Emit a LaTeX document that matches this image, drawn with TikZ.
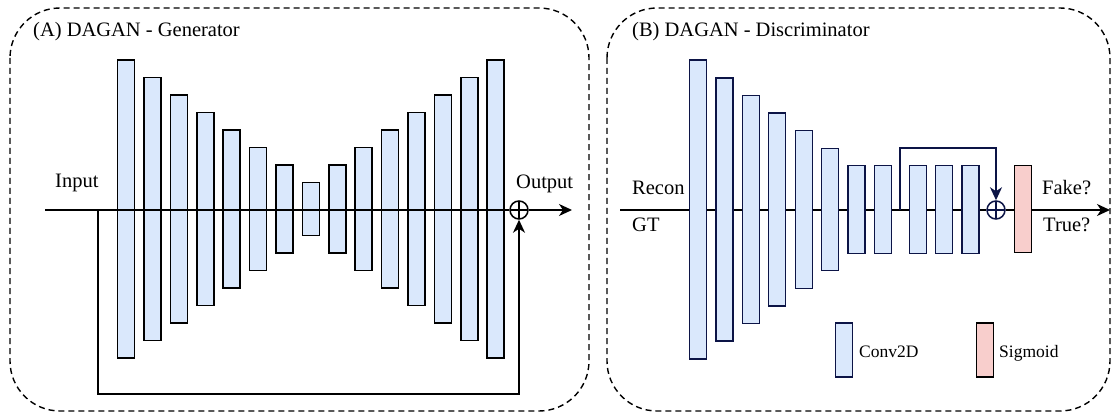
\documentclass[tikz,border=0pt]{standalone}
\usepackage{fontspec}
\setmainfont{Liberation Serif}
\usetikzlibrary{arrows.meta,calc}
\definecolor{barfill}{HTML}{DAE8FC}
\definecolor{sigfill}{HTML}{F8CECC}
\definecolor{navy}{RGB}{12,20,70}
\begin{document}
\begin{tikzpicture}[x=1pt,y=-1pt,
  panel/.style={draw, dash pattern=on 6pt off 4pt, line width=1.4pt, rounded corners=50pt},
  genbar/.style={draw=black, fill=barfill, line width=1.6pt, minimum width=17pt, inner sep=0pt},
  discbar/.style={draw=navy, fill=barfill, line width=1.6pt, minimum width=17pt, inner sep=0pt},
  sigbar/.style={draw=black, fill=sigfill, line width=1.6pt, minimum width=17pt, inner sep=0pt},
  oplus/.style={circle, draw=#1, line width=1.5pt, minimum size=18pt, inner sep=0pt,
    path picture={\draw[#1, line width=1.5pt] (path picture bounding box.north) -- (path picture bounding box.south)
      (path picture bounding box.west) -- (path picture bounding box.east);}},
  conn/.style={line width=1.6pt},
  tip/.style={-{Stealth[length=13pt,width=12pt,inset=4pt]}},
  lbl/.style={anchor=base west, inner sep=0pt, font=\fontsize{20.5}{24}\selectfont},
  leg/.style={anchor=base west, inner sep=0pt, font=\fontsize{17.5}{20}\selectfont}]
\useasboundingbox (0,0) rectangle (1111,414);

% panels
\draw[panel] (10,8) rectangle (589,411);
\draw[panel] (607,8) rectangle (1110,411);

% ---------- Generator ----------
\node[lbl] (titleA) at (33,36.5) {(A) DAGAN - Generator};
\foreach \i in {1,...,15} {
  \pgfmathsetmacro\dd{abs(\i-8)}
  \pgfmathsetmacro\hh{53+35*\dd}
  \node[genbar, minimum height=\hh pt] (g\i) at ({126+26.4*(\i-1)}, 209) {};
}
\node[oplus=black] (gplus) at (519,210) {};
\coordinate (gin) at (45,210);
\coordinate (gout) at (572,210);
\coordinate (gs) at (98,210);
\coordinate (gsb) at (98,394);
\draw[conn] (gin) -- (gplus.west);
\draw[conn,tip] (gplus.east) -- (gout);
\draw[conn,tip] (gs) -- (gsb) -| (gplus.south);
\node[lbl] (input) at (55,187.5) {Input};
\node[lbl] (output) at (516,189) {Output};

% ---------- Discriminator ----------
\node[lbl] (titleB) at (632,36.5) {(B) DAGAN - Discriminator};
\node[oplus=navy] (dplus) at (996,210) {};
\node[sigbar, minimum height=87pt] (sig) at (1023,209) {};
\coordinate (din) at (620,210);
\coordinate (dout) at (1110,210);
\draw[conn] (din) -- (dplus.west);
\draw[conn] (dplus.east) -- (dplus.east -| sig.west);
\draw[conn,tip] (dplus.east -| sig.east) -- (dout);
\foreach \i/\x/\hh in {1/698/299, 2/724.5/263, 3/751/228, 4/777/193, 5/804/158, 6/830/122,
                       7/856.5/88, 8/883/88, 9/918/88, 10/944/88, 11/970.5/88}
  \node[discbar, minimum height=\hh pt] (d\i) at (\x,209.5) {};
\coordinate (ds) at (900,210);
\coordinate (dst) at (900,148);
\draw[conn,navy,tip] (ds) -- (dst) -| (dplus.north);
\node[lbl] (recon) at (632,195) {Recon};
\node[lbl] (gt) at (632,232) {GT};
\node[lbl] (fake) at (1042,195) {Fake?};
\node[lbl] (true) at (1043,232) {True?};

% legend
\node[discbar, minimum height=54pt] (legc) at (844,350) {};
\node[sigbar, minimum height=54pt] (legs) at (985,350) {};
\node[leg] (legct) at (859,357) {Conv2D};
\node[leg] (legst) at (999,357) {Sigmoid};
\end{tikzpicture}
\end{document}
